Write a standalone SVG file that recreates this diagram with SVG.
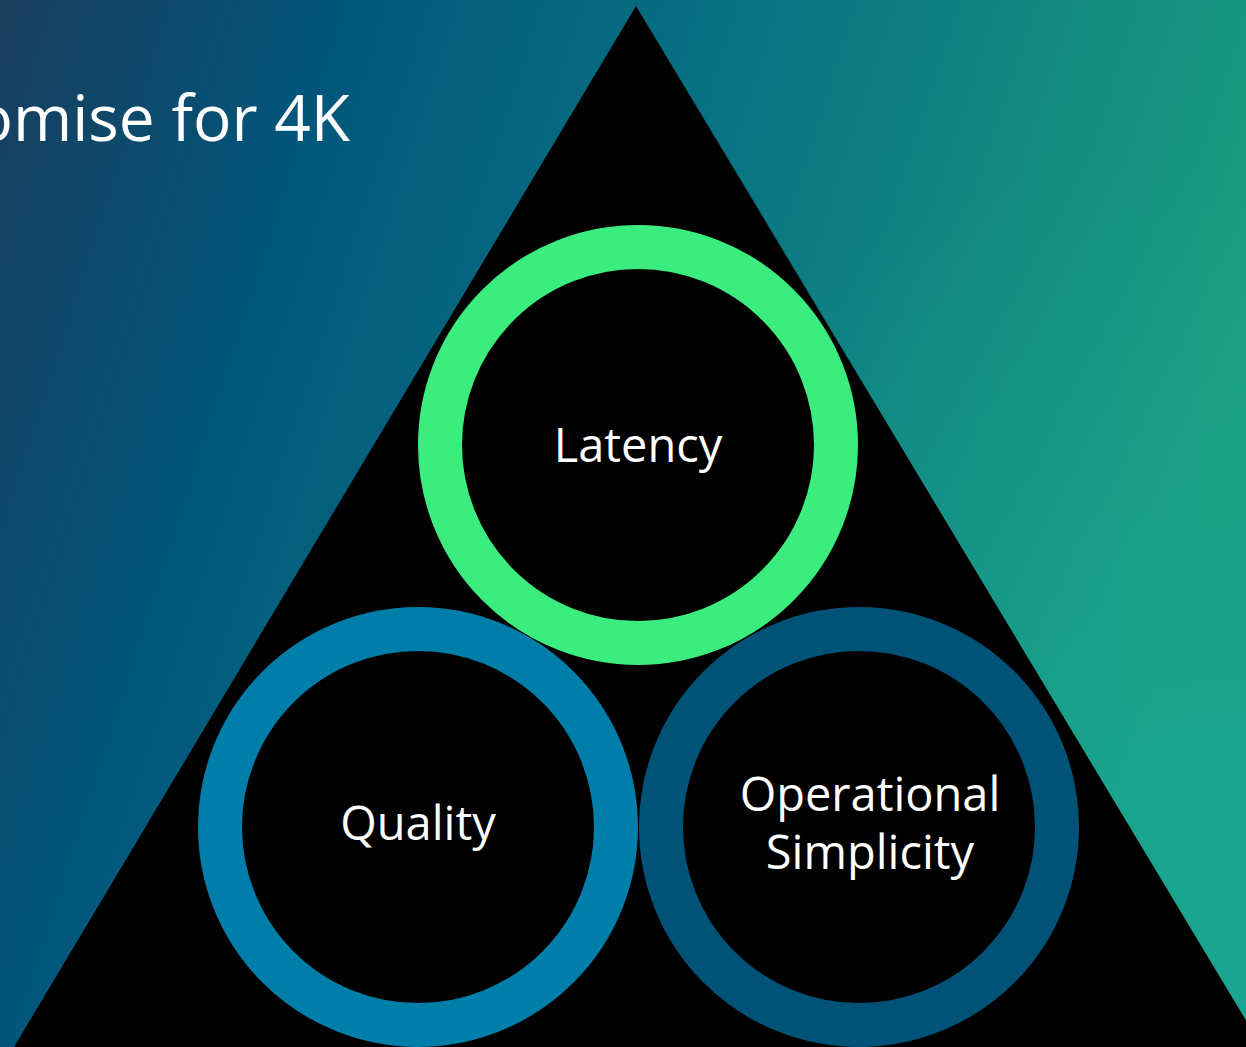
<svg xmlns="http://www.w3.org/2000/svg" width="1246" height="1047" viewBox="0 0 1246 1047">
  <defs>
    <linearGradient id="bg" x1="0" y1="0" x2="1246" y2="400" gradientUnits="userSpaceOnUse">
      <stop offset="0" stop-color="#193d5d"/>
      <stop offset="0.25" stop-color="#02567b"/>
      <stop offset="0.55" stop-color="#097283"/>
      <stop offset="1" stop-color="#1ca07e"/>
    </linearGradient>
    <radialGradient id="bg2" cx="1246" cy="1047" r="900" gradientUnits="userSpaceOnUse">
      <stop offset="0" stop-color="#17aaa0" stop-opacity="0.6"/>
      <stop offset="1" stop-color="#17aaa0" stop-opacity="0"/>
    </radialGradient>
    <style>
      .ring { fill: #000; stroke-width: 44; }
      .label { font-family: "Open Sans", "Noto Sans", "Liberation Sans", sans-serif; font-size: 47px; fill: #ffffff; text-anchor: middle; }
      .title { font-family: "Open Sans", "Noto Sans", "Liberation Sans", sans-serif; font-size: 64px; fill: #ffffff; text-anchor: end; }
    </style>
  </defs>
  <rect width="1246" height="1047" fill="url(#bg)"/>
  <rect width="1246" height="1047" fill="url(#bg2)"/>
  <text class="title" x="350" y="141">omise for 4K</text>
  <polygon points="636,6 1262,1047 14,1047" fill="#000"/>
  <g id="connectors"></g>
  <g id="latency">
    <circle class="ring" cx="638" cy="445" r="198" stroke="#3bec7e"/>
    <text class="label" x="638" y="462">Latency</text>
  </g>
  <g id="quality">
    <circle class="ring" cx="418" cy="827" r="198" stroke="#007eaa"/>
    <text class="label" x="418" y="840">Quality</text>
  </g>
  <g id="operational-simplicity">
    <circle class="ring" cx="859" cy="827" r="198" stroke="#005276"/>
    <text class="label" x="870" y="811">Operational</text>
    <text class="label" x="870" y="869">Simplicity</text>
  </g>
</svg>
